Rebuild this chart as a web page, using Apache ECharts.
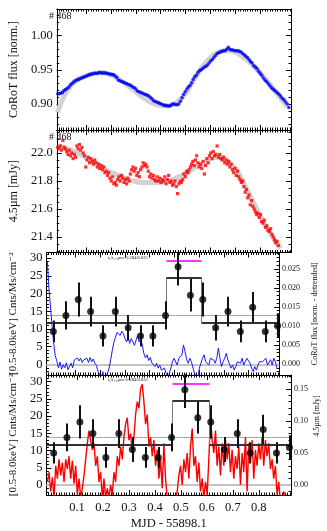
<!DOCTYPE html>
<html>
<head>
<meta charset="utf-8">
<script src="https://cdn.jsdelivr.net/npm/echarts@6/dist/echarts.min.js"></script>
<style>
  html, body { margin: 0; padding: 0; background: #fff; }
  #main { width: 327px; height: 531px; }
</style>
</head>
<body>
<div id="main"></div>
<script>
// time axis: MJD - 55898.1
var X_MIN = -0.018, X_MAX = 0.924;
var T0 = -0.0142;          // first sample of the light curves
var DT_LC = 0.00641;       // spacing of CoRoT / detrended samples
var DT_IR = 0.005128;      // spacing of 4.5um samples
var DT_FIT = 0.02564;      // spacing of fit curve samples

var xTicks = [0.1, 0.2, 0.3, 0.4, 0.5, 0.6, 0.7, 0.8];
var yTicksCorot = [0.90, 0.95, 1.00];
var yTicksIrac = [21.4, 21.6, 21.8, 22.0];
var yTicksCnts = [0, 5, 10, 15, 20, 25, 30];
var rTicksCorot = [0, 0.005, 0.010, 0.015, 0.020, 0.025];
var rTicksIrac = [0, 0.05, 0.10, 0.15];

// CoRoT flux (normalised)
var corotFlux = [
  0.915,0.915,0.916,0.917,0.920,0.921,0.923,0.925,0.928,0.930,
  0.932,0.934,0.935,0.936,0.937,0.938,0.939,0.940,0.941,0.942,
  0.943,0.944,0.944,0.945,0.945,0.945,0.946,0.946,0.945,0.946,
  0.945,0.945,0.944,0.944,0.943,0.943,0.941,0.939,0.935,0.934,
  0.933,0.932,0.931,0.930,0.929,0.928,0.927,0.925,0.924,0.922,
  0.919,0.918,0.917,0.916,0.915,0.914,0.913,0.912,0.910,0.908,
  0.905,0.904,0.903,0.902,0.901,0.900,0.899,0.898,0.898,0.897,
  0.897,0.898,0.900,0.900,0.899,0.899,0.900,0.904,0.909,0.914,
  0.918,0.922,0.925,0.927,0.931,0.936,0.940,0.942,0.946,0.949,
  0.950,0.952,0.954,0.955,0.957,0.960,0.963,0.965,0.968,0.971,
  0.974,0.975,0.976,0.977,0.978,0.978,0.980,0.983,0.980,0.979,
  0.979,0.978,0.978,0.978,0.977,0.976,0.974,0.972,0.970,0.968,
  0.965,0.962,0.960,0.956,0.954,0.952,0.948,0.945,0.942,0.938,
  0.935,0.933,0.930,0.927,0.924,0.922,0.920,0.918,0.916,0.914,
  0.911,0.908,0.906,0.903,0.900,0.895
];
var corotFit = [
  0.888,0.912,0.926,0.935,0.940,0.943,0.945,0.946,0.944,0.940,
  0.934,0.927,0.920,0.912,0.906,0.901,0.898,0.897,0.899,0.905,
  0.915,0.930,0.945,0.958,0.968,0.975,0.978,0.978,0.975,0.969,
  0.962,0.953,0.943,0.932,0.920,0.908,0.896
];

// 4.5um flux [mJy]
var iracFlux = [
  22.04,22.03,22.05,22.02,22.09,22.04,22.03,
  22.01,21.99,22.02,21.98,22.00,21.96,21.99,21.97,
  22.05,22.03,22.06,22.02,22.04,22.00,21.98,
  21.90,21.95,21.97,21.93,21.96,21.94,21.92,21.95,
  21.93,21.90,21.92,21.89,21.91,21.88,21.90,21.86,
  21.87,21.84,21.86,21.82,21.80,21.83,21.78,21.79,
  21.77,21.81,21.83,21.80,21.84,21.82,21.79,21.81,
  21.78,21.82,21.80,21.85,21.88,21.90,21.87,21.89,
  21.84,21.86,21.83,21.88,21.90,21.93,21.91,21.92,
  21.90,21.87,21.83,21.85,21.82,21.84,21.81,21.80,
  21.83,21.80,21.82,21.79,21.81,21.80,21.83,21.78,
  21.81,21.84,21.79,21.80,21.77,21.78,21.80,21.76,
  21.71,21.78,21.80,21.79,21.81,21.85,21.83,21.87,
  21.86,21.88,21.90,21.92,21.94,21.91,21.95,21.98,
  21.93,21.90,21.92,21.89,21.94,21.85,21.91,21.96,
  21.93,21.98,22.00,21.96,22.01,21.98,21.99,22.05,
  21.97,21.99,21.96,21.95,21.97,21.93,21.95,21.92,
  21.94,21.90,21.92,21.88,21.86,21.89,21.84,21.87,
  21.83,21.81,21.79,21.80,21.76,21.72,21.74,21.68,
  21.70,21.63,21.66,21.62,21.60,21.58,21.56,21.57,
  21.54,21.56,21.51,21.50,21.52,21.47,21.48,21.45,
  21.44,21.46,21.42,21.40,21.38,21.36,21.37,21.34
];
var iracFit = [
  22.05,22.04,22.02,22.00,21.98,21.95,21.93,21.90,21.87,21.85,
  21.83,21.81,21.80,21.79,21.79,21.79,21.79,21.80,21.81,21.83,
  21.85,21.88,21.91,21.93,21.96,21.97,21.96,21.93,21.88,21.80,
  21.71,21.62,21.53,21.45,21.38,21.32
];

// binned X-ray rate [Cnts/Ms/cm^2]
var xrayTime = [0.010,0.061,0.111,0.161,0.211,0.261,0.313,0.363,0.413,0.464,
                0.515,0.565,0.615,0.667,0.717,0.767,0.817,0.868,0.918];
var xrayRate = [9.3,13.8,18.3,14.9,8.0,14.9,10.3,8.0,8.0,13.8,
                27.6,19.5,18.3,10.3,14.9,9.3,16.1,9.3,10.9];
var xrayErr  = [3.1,4.0,4.8,4.2,3.0,4.2,3.6,3.0,3.0,4.0,
                5.3,4.6,4.8,3.6,4.2,3.1,4.3,3.1,3.5];
var blockEdges = [0.468, 0.610];
var blockLevels = [11.7, 24.5, 11.7];
var meanRate = 13.8;
var flareWindow = [0.468, 0.610, 29.4];

// detrended CoRoT flux
var corotDetr = [
  0.0269,0.0200,0.0150,0.0100,0.0055,0.0022,0.0008,-0.0010,0.0005,-0.0014,
  -0.0002,-0.0010,0.0003,-0.0015,-0.0012,0.0002,-0.0010,0.0010,0.0015,0.0016,
  0.0008,0.0015,0.0004,0.0011,0.0006,0.0015,0.0004,0.0017,0.0006,0.0013,
  0.0002,-0.0004,-0.0020,-0.0026,-0.0040,-0.0020,-0.0040,-0.0040,-0.0025,-0.0011,
  0.0011,0.0035,0.0057,0.0070,0.0083,0.0081,0.0075,0.0086,0.0080,0.0067,
  0.0058,0.0071,0.0054,0.0067,0.0058,0.0049,0.0062,0.0075,0.0058,0.0067,
  0.0049,0.0027,0.0016,0.0024,0.0009,0.0017,0.0003,0.0006,-0.0007,0.0002,
  -0.0011,-0.0003,-0.0016,-0.0020,-0.0011,-0.0025,-0.0040,-0.0040,-0.0011,0.0006,
  0.0015,0.0011,-0.0003,0.0015,0.0011,0.0024,0.0050,0.0032,0.0011,0.0002,
  0.0015,0.0006,-0.0011,-0.0025,-0.0020,-0.0040,-0.0011,0.0002,0.0015,0.0024,
  0.0006,0.0011,-0.0003,0.0015,0.0019,0.0011,0.0002,0.0015,0.0042,0.0015,
  -0.0007,0.0006,0.0015,0.0028,0.0011,0.0006,-0.0011,-0.0003,-0.0016,-0.0007,
  0.0006,0.0011,0.0002,0.0015,-0.0003,0.0006,0.0015,0.0019,0.0002,-0.0011,
  -0.0020,-0.0007,-0.0016,-0.0003,0.0006,0.0011,0.0006,0.0002,0.0015,-0.0003,
  0.0002,0.0011,-0.0003,0.0015,0.0006,-0.0011
];

// detrended 4.5um flux [mJy]
var iracDetr = [
  0.005,0.020,-0.010,0.012,-0.020,0.030,0.010,0.040,0.015,0.035,
  0.005,0.040,0.025,0.045,0.010,0.038,0.002,0.030,-0.015,0.010,
  -0.020,-0.005,0.015,0.040,0.065,0.085,0.082,0.055,0.065,0.030,
  0.045,0.005,0.020,-0.020,0.010,-0.020,-0.005,-0.020,0.000,-0.015,
  0.020,0.005,0.045,0.030,0.060,0.040,0.075,0.095,0.105,0.070,
  0.080,0.050,0.075,0.110,0.130,0.120,0.150,0.157,0.130,0.095,
  0.110,0.060,0.075,0.045,0.070,0.030,0.055,0.010,0.040,-0.005,
  0.065,0.010,-0.020,-0.030,-0.030,-0.025,-0.030,-0.030,-0.010,0.015,
  0.030,0.000,0.040,0.020,0.050,0.010,0.060,0.088,0.030,0.045,
  0.005,0.035,-0.010,0.010,-0.020,0.005,-0.015,0.040,0.105,0.070,
  0.050,0.085,0.030,0.060,0.015,0.065,0.030,0.070,0.040,0.065,
  0.020,0.055,0.010,0.045,0.025,0.060,0.000,0.050,0.020,0.075,
  -0.010,0.065,0.035,0.070,0.010,0.055,0.030,0.065,0.040,0.075,
  0.030,0.070,0.045,0.065,0.025,0.040,0.010,0.030,-0.015,0.005,
  -0.025,-0.030,-0.010,-0.025,-0.030,-0.030
];

var FONT = '"Liberation Serif", "DejaVu Serif", serif';

function pairs(t0, dt, vals) {
  return vals.map(function (v, i) { return [t0 + i * dt, v]; });
}
function seq(a, b, s) {
  var out = [];
  for (var v = a; v <= b + s / 2; v += s) out.push(+v.toFixed(6));
  return out;
}
var xMinor = seq(-0.01, 0.92, 0.01);

function makeAxis(g, pos, min, max, ticks, len, line, label) {
  var a = {
    type: 'value', gridIndex: g, position: pos, min: min, max: max,
    axisLine: { show: line, onZero: false, lineStyle: { color: '#000', width: 1 } },
    axisTick: { show: true, inside: true, length: len, customValues: ticks,
                lineStyle: { color: '#000', width: 1 } },
    axisLabel: { show: false },
    splitLine: { show: false }
  };
  if (label) {
    a.axisLabel = { show: true, customValues: ticks, formatter: label.fmt,
                    fontFamily: FONT, fontSize: label.size, color: '#111', margin: label.margin };
  }
  return a;
}

var panels = [
  { top: 9, height: 121, ymin: 0.862, ymax: 1.039, yTicks: yTicksCorot, yMinor: seq(0.87, 1.03, 0.01),
    fmt: function (v) { return v.toFixed(2); }, name: 'CoRoT flux [norm.]',
    rmin: 0.862, rmax: 1.039, rTicks: yTicksCorot, rMinor: seq(0.87, 1.03, 0.01) },
  { top: 130, height: 122.5, ymin: 21.29, ymax: 22.164, yTicks: yTicksIrac, yMinor: seq(21.3, 22.15, 0.05),
    fmt: function (v) { return v.toFixed(1); }, name: '4.5\u00b5m [mJy]',
    rmin: 21.29, rmax: 22.164, rTicks: yTicksIrac, rMinor: seq(21.3, 22.15, 0.05) },
  { top: 252.5, height: 122.5, ymin: -3.03, ymax: 31.6, yTicks: yTicksCnts, yMinor: seq(-3, 31, 1),
    fmt: function (v) { return String(v); }, name: '[0.5-8.0keV] Cnts/Ms/cm\u207b\u00b2',
    rmin: -0.0029, rmax: 0.0293, rTicks: rTicksCorot, rMinor: seq(-0.002, 0.029, 0.001),
    rfmt: function (v) { return v.toFixed(3); }, rname: 'CoRoT flux [norm. - detrended]' },
  { top: 375, height: 121, ymin: -2.9, ymax: 31.9, yTicks: yTicksCnts, yMinor: seq(-2, 31, 1),
    fmt: function (v) { return String(v); }, name: '[0.5-8.0keV] Cnts/Ms/cm\u207b\u00b2',
    rmin: -0.0155, rmax: 0.1716, rTicks: rTicksIrac, rMinor: seq(-0.01, 0.17, 0.01),
    rfmt: function (v) { return v.toFixed(2); } }
];

var grids = [], xAxes = [], yAxes = [], idx = [];
panels.forEach(function (p, g) {
  var last = g === panels.length - 1;
  grids.push({ left: 46, width: 245, top: p.top, height: p.height });
  var xb = xAxes.length;
  xAxes.push(makeAxis(g, 'bottom', X_MIN, X_MAX, xTicks, 5, true,
    last ? { fmt: function (v) { return v.toFixed(1); }, size: 12.5, margin: 6 } : null));
  if (last) {
    xAxes[xb].name = 'MJD - 55898.1';
    xAxes[xb].nameLocation = 'middle';
    xAxes[xb].nameGap = 22;
    xAxes[xb].nameTextStyle = { fontFamily: FONT, fontSize: 12.5, color: '#111' };
  }
  xAxes.push(makeAxis(g, 'bottom', X_MIN, X_MAX, xMinor, 2.5, false, null));
  xAxes.push(makeAxis(g, 'top', X_MIN, X_MAX, xTicks, 5, true, null));
  xAxes.push(makeAxis(g, 'top', X_MIN, X_MAX, xMinor, 2.5, false, null));

  var yl = yAxes.length;
  yAxes.push(makeAxis(g, 'left', p.ymin, p.ymax, p.yTicks, 5, true, { fmt: p.fmt, size: 12.5, margin: 4 }));
  yAxes[yl].name = p.name;
  yAxes[yl].nameLocation = 'middle';
  yAxes[yl].nameRotate = 90;
  yAxes[yl].nameGap = g < 2 ? 28 : 25;
  yAxes[yl].nameTextStyle = { fontFamily: FONT, fontSize: g < 2 ? 12 : 11, color: '#111' };
  yAxes.push(makeAxis(g, 'left', p.ymin, p.ymax, p.yMinor, 2.5, false, null));

  var yr = yAxes.length;
  yAxes.push(makeAxis(g, 'right', p.rmin, p.rmax, p.rTicks, 5, true,
    p.rfmt ? { fmt: p.rfmt, size: 8, margin: 3 } : null));
  if (p.rname) {
    yAxes[yr].name = p.rname;
    yAxes[yr].nameLocation = 'middle';
    yAxes[yr].nameRotate = 90;
    yAxes[yr].nameGap = 24;
    yAxes[yr].nameTextStyle = { fontFamily: FONT, fontSize: 8, color: '#111' };
  }
  yAxes.push(makeAxis(g, 'right', p.rmin, p.rmax, p.rMinor, 2.5, false, null));
  idx.push({ x: xb, yl: yl, yr: yr });
});

function seg(a, b) { return { coords: [a, b] }; }

var series = [];
// panel 1: CoRoT
series.push({ type: 'line', xAxisIndex: idx[0].x, yAxisIndex: idx[0].yl, smooth: true, showSymbol: false,
  data: pairs(T0, DT_FIT, corotFit), lineStyle: { color: '#d2d2d2', width: 5 }, z: 1 });
series.push({ type: 'scatter', xAxisIndex: idx[0].x, yAxisIndex: idx[0].yl, symbolSize: 3.6,
  data: pairs(T0, DT_LC, corotFlux), itemStyle: { color: '#0000ff' }, z: 2 });
// panel 2: 4.5um
series.push({ type: 'line', xAxisIndex: idx[1].x, yAxisIndex: idx[1].yl, smooth: true, showSymbol: false,
  data: pairs(T0, DT_FIT, iracFit), lineStyle: { color: '#d2d2d2', width: 5 }, z: 1 });
series.push({ type: 'scatter', xAxisIndex: idx[1].x, yAxisIndex: idx[1].yl, symbol: 'rect', symbolSize: 3.2,
  data: pairs(T0, DT_IR, iracFlux), itemStyle: { color: '#ff0000' }, z: 2 });

// panels 3 and 4: X-ray with detrended optical / IR
[2, 3].forEach(function (g) {
  var xi = idx[g].x, yi = idx[g].yl;
  series.push({ type: 'line', xAxisIndex: xi, yAxisIndex: idx[g].yr, showSymbol: false,
    data: pairs(T0, DT_LC, g === 2 ? corotDetr : iracDetr),
    lineStyle: { color: g === 2 ? '#1a1aff' : '#ff0000', width: g === 2 ? 1 : 1.4 }, z: 2 });
  series.push({ type: 'lines', coordinateSystem: 'cartesian2d', xAxisIndex: xi, yAxisIndex: yi,
    data: [seg([X_MIN, 0], [X_MAX, 0])], lineStyle: { color: '#c4c4c4', width: 2, opacity: 1 }, z: 1 });
  series.push({ type: 'lines', coordinateSystem: 'cartesian2d', xAxisIndex: xi, yAxisIndex: yi,
    data: [seg([X_MIN, meanRate], [X_MAX, meanRate])],
    lineStyle: { color: '#555', width: 1, type: 'dotted', opacity: 1 }, z: 3 });
  // bayesian blocks: thin risers, thick levels
  series.push({ type: 'lines', coordinateSystem: 'cartesian2d', xAxisIndex: xi, yAxisIndex: yi,
    data: [seg([blockEdges[0], blockLevels[0]], [blockEdges[0], blockLevels[1]]),
           seg([blockEdges[1], blockLevels[1]], [blockEdges[1], blockLevels[2]])],
    lineStyle: { color: '#777', width: 1, opacity: 1 }, z: 3 });
  series.push({ type: 'lines', coordinateSystem: 'cartesian2d', xAxisIndex: xi, yAxisIndex: yi,
    data: [seg([X_MIN, blockLevels[0]], [blockEdges[0], blockLevels[0]]),
           seg([blockEdges[0], blockLevels[1]], [blockEdges[1], blockLevels[1]]),
           seg([blockEdges[1], blockLevels[2]], [X_MAX, blockLevels[2]])],
    lineStyle: { color: '#333', width: 2.2, opacity: 1 }, z: 4 });
  series.push({ type: 'lines', coordinateSystem: 'cartesian2d', xAxisIndex: xi, yAxisIndex: yi,
    data: [seg([flareWindow[0], flareWindow[2]], [flareWindow[1], flareWindow[2]])],
    lineStyle: { color: '#ff33ff', width: 2, opacity: 1 }, z: 4 });
  series.push({ type: 'lines', coordinateSystem: 'cartesian2d', xAxisIndex: xi, yAxisIndex: yi,
    data: xrayTime.map(function (t, i) {
      return seg([t, xrayRate[i] - xrayErr[i]], [t, xrayRate[i] + xrayErr[i]]);
    }),
    lineStyle: { color: '#111', width: 2, opacity: 1 }, z: 5 });
  series.push({ type: 'scatter', xAxisIndex: xi, yAxisIndex: yi, symbolSize: 7,
    data: xrayTime.map(function (t, i) { return [t, xrayRate[i]]; }),
    itemStyle: { color: '#000' }, z: 6 });
});

function txt(x, y, s, size, rot) {
  return { type: 'text', x: x, y: y, rotation: rot || 0, z: 100,
    style: { text: s, fontSize: size, fontFamily: 'Liberation Serif', fill: '#111',
             textAlign: rot ? 'center' : 'left', align: rot ? 'center' : 'left',
             textVerticalAlign: rot ? 'middle' : 'top', verticalAlign: rot ? 'middle' : 'top' } };
}

var option = {
  animation: false,
  grid: grids,
  xAxis: xAxes,
  yAxis: yAxes,
  series: series,
  graphic: [
    txt(49, 11, '# 468', 10),
    txt(49, 132, '# 468', 10),
    txt(108, 255, 't\u2080/t\u2084.\u2085\u00b5m=0.284/0.025', 4.5),
    txt(108, 377, 't\u2080/t\u2084.\u2085\u00b5m=0.284/0.025', 4.5),
    txt(317, 416, '4.5\u00b5m [mJy]', 8, Math.PI / 2)
  ]
};

var myChart = echarts.init(document.getElementById('main'), null, { renderer: 'canvas' });
myChart.setOption(option);
</script>
</body>
</html>
